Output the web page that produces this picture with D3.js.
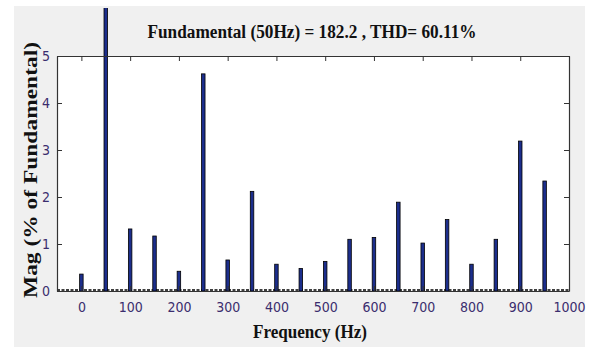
<!DOCTYPE html>
<html>
<head>
<meta charset="utf-8">
<script src="https://cdn.jsdelivr.net/npm/d3@7"></script>
<style>
  body { margin: 0; background: #fff; }
  .tick text { font-family: "Liberation Sans Narrow", "DejaVu Sans Condensed", "Liberation Sans", Arial, sans-serif; font-stretch: condensed; font-size: 14px; fill: #3b2d6e; }
  .lbl { font-family: "Liberation Serif", "Times New Roman", serif; font-weight: bold; fill: #111; }
</style>
</head>
<body>
<svg width="594" height="347"></svg>
<script>
// harmonic spectrum, % of fundamental
var freqs = [0, 50, 100, 150, 200, 250, 300, 350, 400, 450, 500, 550, 600, 650, 700, 750, 800, 850, 900, 950];
var mags = [0.36, 100, 1.32, 1.17, 0.42, 4.62, 0.66, 2.12, 0.57, 0.48, 0.63, 1.10, 1.14, 1.89, 1.02, 1.52, 0.57, 1.10, 3.19, 2.34];
var xTicks = [0, 100, 200, 300, 400, 500, 600, 700, 800, 900, 1000];
var yTicks = [0, 1, 2, 3, 4, 5];
var titleText = "Fundamental (50Hz) = 182.2 , THD= 60.11%";

var svg = d3.select("svg");
var margin = {top: 56, right: 25, bottom: 56, left: 57};
var width = 594 - margin.left - margin.right;
var height = 347 - margin.top - margin.bottom;

// grey figure background
svg.append("rect").attr("x", 14).attr("y", 6).attr("width", 571).attr("height", 341).attr("fill", "#f0f0f0");

var g = svg.append("g").attr("transform", "translate(" + margin.left + "," + margin.top + ")");
g.append("rect").attr("width", width).attr("height", height).attr("fill", "#fff");

var x = d3.scaleLinear().domain([-50, 1000]).range([0, width]);
var y = d3.scaleLinear().domain([0, 5]).range([height, 0]);

// bars may poke out above the axes (fundamental), clip a bit above
svg.append("clipPath").attr("id", "clip")
    .append("rect").attr("x", -10).attr("y", 8 - margin.top).attr("width", width + 20).attr("height", height - 8 + margin.top);

// zero baseline, dotted
g.append("line")
    .attr("x1", 0).attr("x2", width)
    .attr("y1", y(0) - 1).attr("y2", y(0) - 1)
    .attr("stroke", "#000").attr("stroke-width", 1.5).attr("stroke-dasharray", "3,1.5");

g.append("g").attr("clip-path", "url(#clip)")
    .selectAll("rect")
    .data(freqs)
    .enter().append("rect")
    .attr("x", function(d) { return x(d) - 1.75; })
    .attr("width", 3.5)
    .attr("y", function(d, i) { return y(mags[i]); })
    .attr("height", function(d, i) { return height - y(mags[i]); })
    .attr("fill", "#1c2e8c")
    .attr("stroke", "#000")
    .attr("stroke-width", 0.8);

// axes, ticks pointing inward like matlab
var fmt = d3.format("d");
var xAxis = g.append("g")
    .attr("transform", "translate(0," + height + ")")
    .call(d3.axisBottom(x).tickValues(xTicks).tickFormat(fmt).tickSize(-5).tickPadding(11).tickSizeOuter(0));
var xTop = g.append("g")
    .call(d3.axisTop(x).tickValues(xTicks).tickSize(-5).tickFormat("").tickSizeOuter(0));
var yAxis = g.append("g")
    .call(d3.axisLeft(y).tickValues(yTicks).tickFormat(fmt).tickSize(-5).tickPadding(7).tickSizeOuter(0));
var yRight = g.append("g")
    .attr("transform", "translate(" + width + ",0)")
    .call(d3.axisRight(y).tickValues(yTicks).tickSize(-5).tickFormat("").tickSizeOuter(0));

[xAxis, xTop, yAxis, yRight].forEach(function(a) {
    a.selectAll("path").attr("stroke", "#333").attr("stroke-width", 1.2);
    a.selectAll("line").attr("stroke", "#333");
});

svg.append("text").attr("class", "lbl")
    .attr("x", 312).attr("y", 38)
    .attr("text-anchor", "middle")
    .attr("font-size", 18)
    .attr("textLength", 329).attr("lengthAdjust", "spacingAndGlyphs")
    .text(titleText);

svg.append("text").attr("class", "lbl")
    .attr("x", 310).attr("y", 338)
    .attr("text-anchor", "middle")
    .attr("font-size", 18)
    .attr("textLength", 114).attr("lengthAdjust", "spacingAndGlyphs")
    .text("Frequency (Hz)");

svg.append("text").attr("class", "lbl")
    .attr("transform", "translate(37,170) rotate(-90)")
    .attr("text-anchor", "middle")
    .attr("font-size", 18)
    .attr("textLength", 256).attr("lengthAdjust", "spacingAndGlyphs")
    .attr("fill", "#141433")
    .text("Mag (% of Fundamental)");
</script>
</body>
</html>
